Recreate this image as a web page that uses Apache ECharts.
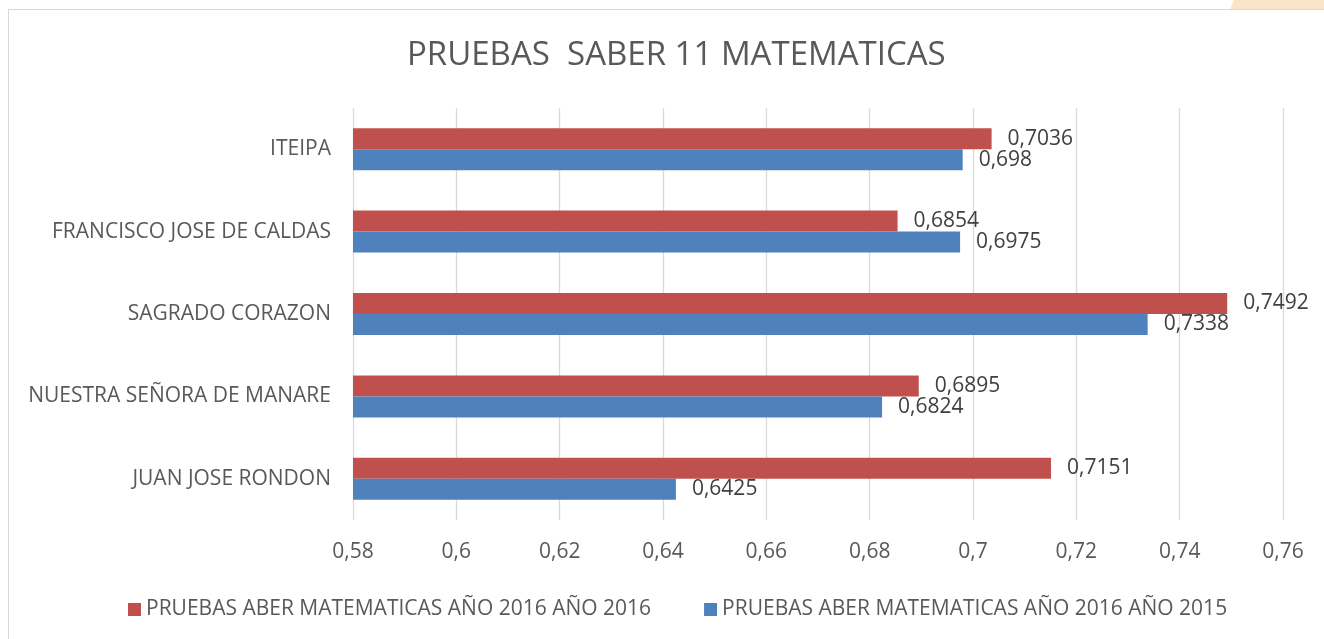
<!DOCTYPE html>
<html>
<head>
<meta charset="utf-8">
<script src="https://cdn.jsdelivr.net/npm/echarts@6/dist/echarts.min.js"></script>
<style>
    html, body {margin: 0; padding: 0; background: #fff; overflow: hidden;}
    #wrap {position: relative; width: 1324px; height: 639px;}
    #frame {position: absolute; left: 8px; top: 9px; width: 1400px; height: 700px; border: 1px solid #d9d9d9;}
    #blob {position: absolute; left: 1232px; top: 0; width: 110px; height: 9px; background: #fbe5c9; transform: skewX(-20deg);}
    #main {position: absolute; left: 0; top: 0; width: 1324px; height: 639px;}
</style>
</head>
<body>
<div id="wrap">
    <div id="blob"></div>
    <div id="frame"></div>
    <div id="main"></div>
</div>
<script>
    // colegios, de arriba hacia abajo
    let categories = ['ITEIPA', 'FRANCISCO JOSE DE CALDAS', 'SAGRADO CORAZON', 'NUESTRA SEÑORA DE MANARE', 'JUAN JOSE RONDON'];
    let values2016 = [0.7036, 0.6854, 0.7492, 0.6895, 0.7151];
    let values2015 = [0.698, 0.6975, 0.7338, 0.6824, 0.6425];
    let seriesNames = ['PRUEBAS ABER MATEMATICAS AÑO 2016 AÑO 2016', 'PRUEBAS ABER MATEMATICAS AÑO 2016 AÑO 2015'];
    let axisMin = 0.58, axisMax = 0.76, axisStep = 0.02;

    function comma(v) {
        return String(Number(v.toFixed(4))).replace('.', ',');
    }

    let font = 'Open Sans';
    let labelStyle = {
        show: true,
        position: 'right',
        distance: 16,
        fontFamily: font,
        fontSize: 21,
        color: '#404040',
        formatter: function(p) { return comma(p.value); }
    };

    let chart = echarts.init(document.getElementById('main'));
    chart.setOption({
        animation: false,
        title: {
            text: 'PRUEBAS  SABER 11 MATEMATICAS',
            left: 402,
            top: 34,
            textStyle: {fontFamily: font, fontSize: 33, fontWeight: 'normal', color: '#595959'}
        },
        legend: {
            data: seriesNames,
            left: 123,
            top: 594,
            icon: 'rect',
            itemWidth: 13,
            itemHeight: 13,
            itemGap: 53,
            textStyle: {fontFamily: font, fontSize: 21, color: '#595959'}
        },
        grid: {left: 353, right: 41, top: 108, bottom: 119, containLabel: false},
        xAxis: {
            type: 'value',
            min: axisMin,
            max: axisMax,
            interval: axisStep,
            axisLine: {show: false},
            axisTick: {show: false},
            splitLine: {lineStyle: {color: '#d9d9d9', width: 1.3}},
            axisLabel: {
                margin: 22,
                fontFamily: font,
                fontSize: 21,
                color: '#595959',
                formatter: function(v) { return comma(v); }
            }
        },
        yAxis: {
            type: 'category',
            inverse: true,
            data: categories,
            axisLine: {show: false},
            axisTick: {show: false},
            axisLabel: {margin: 22, fontFamily: font, fontSize: 21, color: '#595959'}
        },
        series: [{
            name: seriesNames[0],
            type: 'bar',
            data: values2016,
            barWidth: 21,
            barGap: '0%',
            itemStyle: {color: '#c0504d'},
            label: labelStyle
        }, {
            name: seriesNames[1],
            type: 'bar',
            data: values2015,
            barWidth: 21,
            barGap: '0%',
            itemStyle: {color: '#4f81bd'},
            label: labelStyle
        }]
    });
</script>
</body>
</html>
